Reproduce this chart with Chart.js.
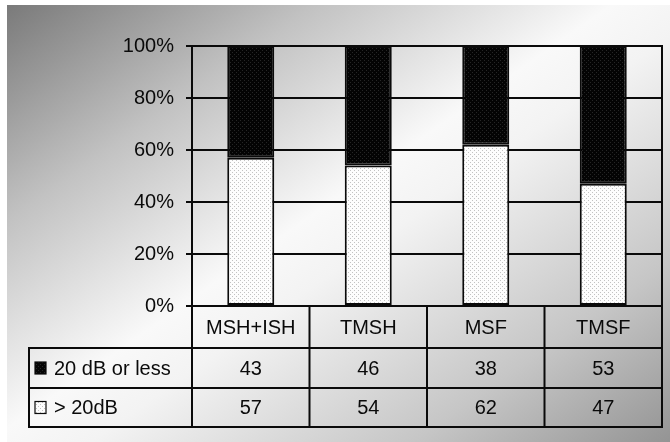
<!DOCTYPE html>
<html>
<head>
<meta charset="utf-8">
<script src="https://cdn.jsdelivr.net/npm/chart.js@4"></script>
<style>
  html, body { margin: 0; padding: 0; background: #ffffff; }
  #wrap { position: relative; width: 670px; height: 442px; overflow: hidden; }
  #bg {
    position: absolute; left: 7px; top: 5px; width: 663px; height: 437px;
    background: linear-gradient(145deg, #7a7a7a 0%, #c2c2c2 24%, #f9f9f9 47%, #f3f3f3 55%, #c6c6c6 80%, #949494 100%);
  }
  canvas { position: absolute; left: 0; top: 0; }
</style>
</head>
<body>
<div id="wrap">
  <div id="bg"></div>
  <canvas id="chart" width="670" height="442"></canvas>
</div>
<script>
// Hearing outcome per group, in percent
const categories = ['MSH+ISH', 'TMSH', 'MSF', 'TMSF'];
const seriesLabels = ['20 dB or less', '> 20dB'];
const lessOrEqual20 = [43, 46, 38, 53];
const above20 = [57, 54, 62, 47];
const yTicks = [0, 20, 40, 60, 80, 100];

const FONT = '"Liberation Sans", Arial, sans-serif';
const INK = '#0a0a0a';

// Small dotted fills for the bars and legend keys
function dotPattern(bg, dot) {
  const c = document.createElement('canvas');
  c.width = 4; c.height = 4;
  const g = c.getContext('2d');
  g.fillStyle = bg; g.fillRect(0, 0, 4, 4);
  g.fillStyle = dot;
  g.fillRect(0, 0, 1, 1);
  g.fillRect(2, 2, 1, 1);
  return g.createPattern(c, 'repeat');
}
const ctx = document.getElementById('chart').getContext('2d');
const darkFill = dotPattern('#040404', '#262626');
const lightFill = dotPattern('#fdfdfd', '#c2c2c2');

// Data table drawn under the plot, with the series keys in the first column
const dataTable = {
  id: 'dataTable',
  afterDraw(chart) {
    const c = chart.ctx;
    const a = chart.chartArea;
    const n = categories.length;
    const colW = (a.right - a.left) / n;
    const tableLeft = 29;
    const yHead = a.bottom;
    const yRow1 = yHead + 42;
    const yRow2 = yRow1 + 40;
    const yEnd = yRow2 + 39;
    const rows = [
      { label: seriesLabels[0], values: lessOrEqual20, fill: darkFill, top: yRow1, bottom: yRow2 },
      { label: seriesLabels[1], values: above20, fill: lightFill, top: yRow2, bottom: yEnd }
    ];

    c.save();
    c.strokeStyle = INK;
    c.lineWidth = 2;
    c.beginPath();
    // horizontal rules
    [yRow1, yRow2, yEnd].forEach(y => { c.moveTo(tableLeft, y); c.lineTo(a.right + 1, y); });
    // left edge of the key column
    c.moveTo(tableLeft, yRow1 - 1); c.lineTo(tableLeft, yEnd + 1);
    // column separators under the plot
    for (let i = 0; i <= n; i++) {
      const x = a.left + i * colW;
      c.moveTo(x, i === n ? a.top - 1 : yHead);
      c.lineTo(x, yEnd + 1);
    }
    c.stroke();

    c.fillStyle = INK;
    c.font = '20px ' + FONT;
    c.textBaseline = 'middle';
    c.textAlign = 'center';
    categories.forEach((cat, i) => {
      const cx = a.left + (i + 0.5) * colW;
      c.fillText(cat, cx, (yHead + yRow1) / 2 + 1);
    });
    rows.forEach(r => {
      const cy = (r.top + r.bottom) / 2 + 1;
      r.values.forEach((v, i) => {
        c.fillStyle = INK;
        c.textAlign = 'center';
        c.fillText(String(v), a.left + (i + 0.5) * colW, cy);
      });
      // key swatch
      c.fillStyle = r.fill;
      c.fillRect(35, cy - 7, 11, 12);
      c.lineWidth = 1.2;
      c.strokeStyle = INK;
      c.strokeRect(35, cy - 7, 11, 12);
      c.fillStyle = INK;
      c.textAlign = 'left';
      c.fillText(r.label, 54, cy);
    });
    c.restore();
  }
};

new Chart(ctx, {
  type: 'bar',
  data: {
    labels: categories,
    datasets: [
      {
        label: seriesLabels[1],
        data: above20,
        backgroundColor: lightFill,
        borderColor: INK,
        borderWidth: 2,
        borderSkipped: false,
        barPercentage: 0.4,
        categoryPercentage: 1
      },
      {
        label: seriesLabels[0],
        data: lessOrEqual20,
        backgroundColor: darkFill,
        borderColor: INK,
        borderWidth: 2,
        borderSkipped: false,
        barPercentage: 0.4,
        categoryPercentage: 1
      }
    ]
  },
  options: {
    responsive: false,
    animation: false,
    devicePixelRatio: 1,
    layout: { padding: { top: 46, right: 8, left: 0, bottom: 0 } },
    plugins: { legend: { display: false }, tooltip: { enabled: false } },
    scales: {
      x: {
        stacked: true,
        ticks: { display: false },
        grid: { display: false },
        border: { display: false },
        afterFit(s) { s.height = 136; }
      },
      y: {
        stacked: true,
        min: 0,
        max: 100,
        afterBuildTicks(s) { s.ticks = yTicks.map(v => ({ value: v })); },
        ticks: {
          callback: v => v + '%',
          color: INK,
          padding: 12,
          font: { family: FONT, size: 20 }
        },
        grid: { color: INK, lineWidth: 2, tickLength: 6, drawTicks: true },
        border: { display: true, color: INK, width: 2 },
        afterFit(s) { s.width = 192; }
      }
    }
  },
  plugins: [dataTable]
});
</script>
</body>
</html>
